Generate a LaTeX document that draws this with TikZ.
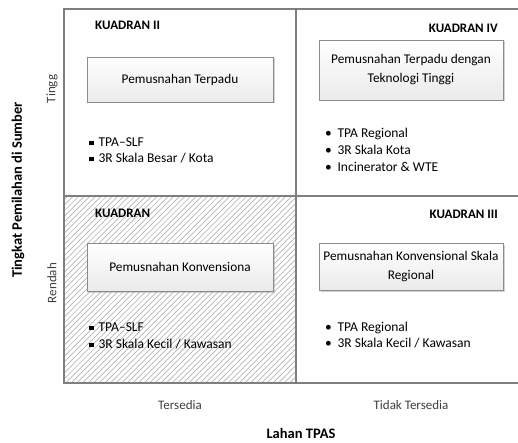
\documentclass[tikz,border=0pt]{standalone}
\usepackage{fontspec}
\setmainfont{Carlito}
\usetikzlibrary{shadows}

\definecolor{gridline}{HTML}{7F7F7F}
\definecolor{boxline}{HTML}{8C8C8C}
\definecolor{hatch}{HTML}{B4B4B4}

\tikzset{
  body/.style={font=\fontsize{13.5}{16}\selectfont, inner sep=0pt},
  quadtitle/.style={font=\bfseries\fontsize{13}{15}\selectfont, inner sep=0pt},
  axistitle/.style={font=\bfseries\fontsize{14.5}{17}\selectfont, inner sep=0pt},
  axisvalue/.style={font=\fontsize{13}{15}\selectfont, text=black!75, inner sep=0pt},
  strategy/.style={draw=boxline, line width=0.8pt, top color=white, bottom color=black!8,
    drop shadow={shadow xshift=1.5pt, shadow yshift=-1.5pt, fill=black!35, opacity=0.5},
    align=center, font=\fontsize{13.3}{19}\selectfont, inner sep=0pt},
  gridrule/.style={draw=gridline, line width=1.4pt},
}
\newcommand{\sqbullet}{\raisebox{0.1em}{\rule{0.38em}{0.34em}}\hspace{0.32em}}
\newcommand{\rdbullet}{\textbullet\hspace{0.42em}}

\begin{document}
\begin{tikzpicture}[x=1pt, y=-1pt]
  \useasboundingbox (0,0) rectangle (518,443);

  % quadrant grid corners
  \coordinate (tl) at (64,9);
  \coordinate (tm) at (296,9);
  \coordinate (tr) at (518,9);
  \coordinate (ml) at (64,196);
  \coordinate (mm) at (296,196);
  \coordinate (mr) at (518,196);
  \coordinate (bl) at (64,383);
  \coordinate (bm) at (296,383);
  \coordinate (br) at (518,383);

  % hatching of the lower-left quadrant
  \begin{scope}
    \clip (ml) rectangle (bm);
    \foreach \i in {0,...,80} {
      \draw[hatch, line width=0.7pt] (64+5.6*\i-200, 383) -- ++(200,-200);
    }
  \end{scope}

  % grid lines
  \draw[gridrule] (tr) -- (tl) -- (bl) -- (br);
  \draw[gridrule] (ml) -- (mr);
  \draw[gridrule] (tm) -- (bm);

  % quadrant headings
  \node[quadtitle, anchor=west] (q2title) at (95,25) {KUADRAN II};
  \node[quadtitle, anchor=east] (q4title) at (498,28) {KUADRAN IV};
  \node[quadtitle, anchor=west] (q1title) at (95,213) {KUADRAN};
  \node[quadtitle, anchor=east] (q3title) at (498,214) {KUADRAN III};

  % strategy boxes
  \node[strategy, minimum width=186pt, minimum height=45pt] (q2box) at (180,79.5) {Pemusnahan Terpadu};
  \node[strategy, minimum width=184pt, minimum height=60pt] (q4box) at (411,70)
    {Pemusnahan Terpadu dengan\\Teknologi Tinggi};
  \node[strategy, minimum width=186pt, minimum height=48pt] (q1box) at (180,267) {Pemusnahan Konvensiona};
  \node[strategy, minimum width=184pt, minimum height=47pt] (q3box) at (411,266.5)
    {Pemusnahan Konvensional Skala\\Regional};

  % option lists
  \node[body, anchor=base west] (q2a) at (89,146.5) {\sqbullet TPA–SLF};
  \node[body, anchor=base west] (q2b) at (89,162.5) {\sqbullet 3R Skala Besar / Kota};

  \node[body, anchor=base west] (q4a) at (325,137.5) {\rdbullet TPA Regional};
  \node[body, anchor=base west] (q4b) at (325,154.5) {\rdbullet 3R Skala Kota};
  \node[body, anchor=base west] (q4c) at (325,171.5) {\rdbullet Incinerator \& WTE};

  \node[body, anchor=base west] (q1a) at (89,331.5) {\sqbullet TPA–SLF};
  \node[body, anchor=base west] (q1b) at (89,348.5) {\sqbullet 3R Skala Kecil / Kawasan};

  \node[body, anchor=base west] (q3a) at (325,331) {\rdbullet TPA Regional};
  \node[body, anchor=base west] (q3b) at (325,347.5) {\rdbullet 3R Skala Kecil / Kawasan};

  % axis values
  \node[axisvalue, rotate=90] (high) at (52,89) {Tingg};
  \node[axisvalue, rotate=90] (low) at (52,283) {Rendah};
  \node[axisvalue] (avail) at (180,405) {Tersedia};
  \node[axisvalue] (notavail) at (411,405) {Tidak Tersedia};

  % axis titles
  \node[axistitle, rotate=90] (ytitle) at (18,190) {Tingkat Pemilahan di Sumber};
  \node[axistitle] (xtitle) at (301,433) {Lahan TPAS};
\end{tikzpicture}
\end{document}
